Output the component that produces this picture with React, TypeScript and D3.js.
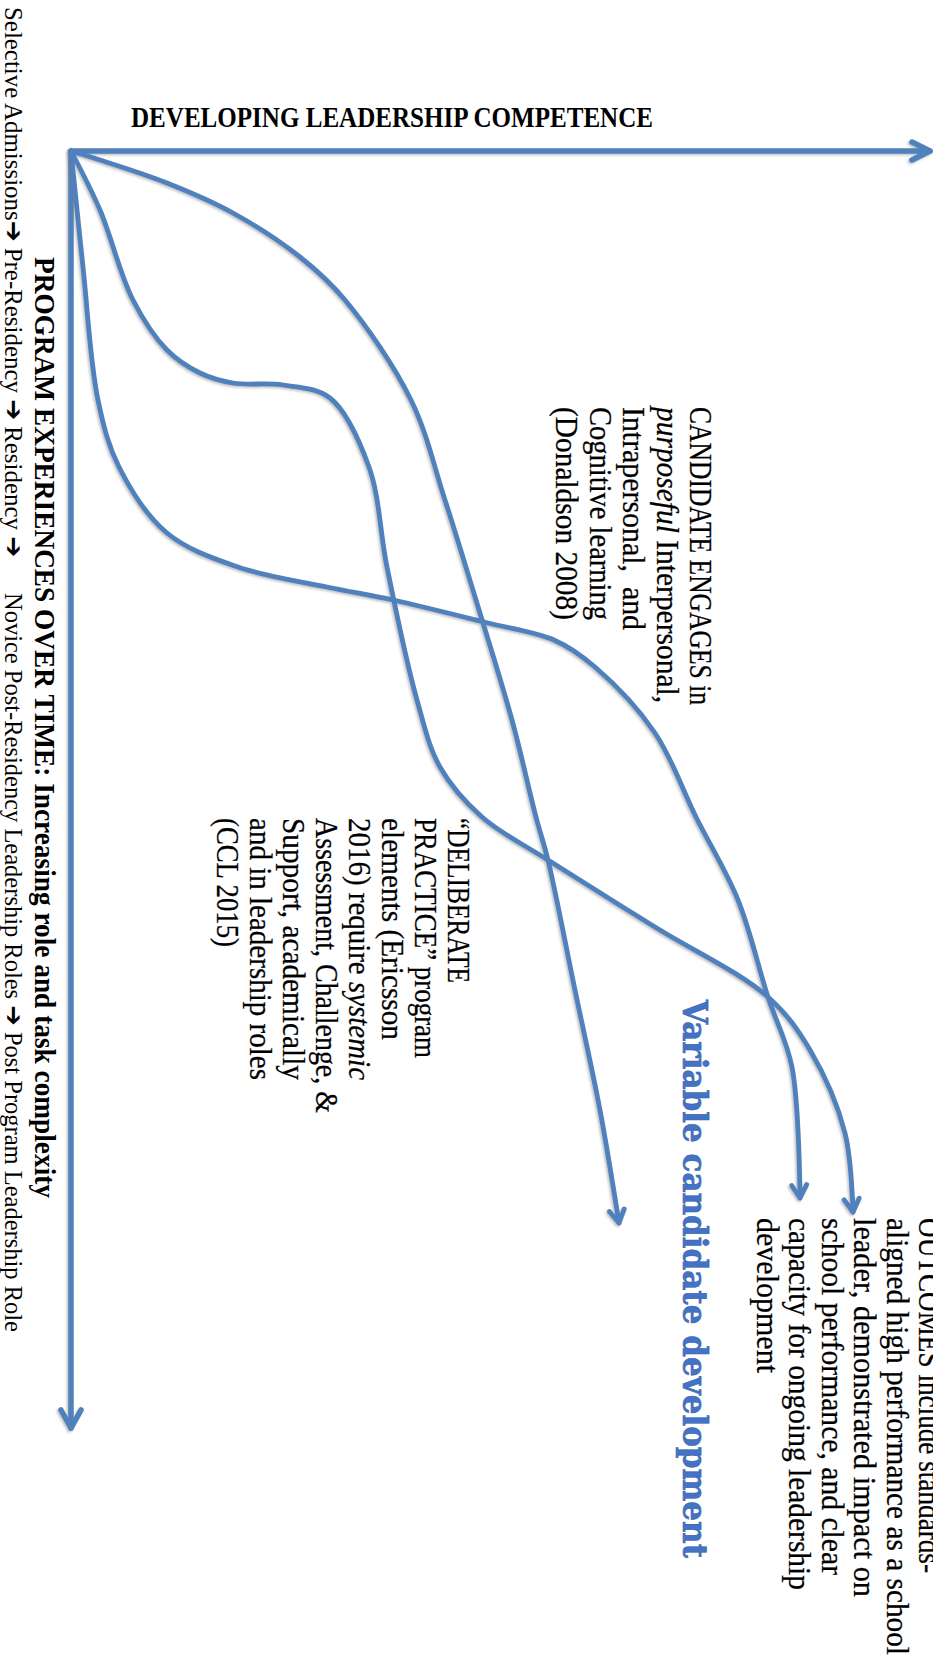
import React from "react";
import * as d3 from "d3";

const WIDTH = 933;
const HEIGHT = 1664;

// Data space: competence (horizontal) vs program time (vertical)
const competenceMax = 859;
const timeMax = 1277;

// Outer (concave) candidate path
const outerCompetence = [0, 29, 96, 162, 229, 274, 340, 374, 405, 441, 465, 477, 504, 529, 548];
const outerTime = [0, 9, 32, 62, 106, 149, 249, 349, 449, 569, 666, 709, 839, 959, 1072];

// Wave (plateau) candidate path
const waveCompetence = [0, 29, 62, 96, 129, 162, 212, 259, 298, 316, 346, 369, 411, 477, 584, 697, 739, 774, 782];
const waveTime = [0, 59, 149, 199, 222, 232, 234, 247, 316, 416, 549, 616, 666, 709, 776, 846, 899, 982, 1061];

// S-shaped candidate path
const sCompetence = [0, 12, 27, 48, 96, 167, 256, 322, 417, 483, 524, 584, 625, 667, 697, 721, 729];
const sTime = [0, 116, 249, 316, 382, 416, 436, 449, 472, 489, 516, 582, 666, 749, 846, 916, 1047];

// Texts
const titleText = "DEVELOPING LEADERSHIP COMPETENCE";
const stagesPart1 = ["Selective Admissions", "➔", " Pre-Residency ", "➔", " Residency ", "➔"];
const stagesPart2 = ["Novice Post-Residency Leadership Roles ", "➔", " Post Program Leadership Role"];
const timeAxisLabel = [{ t: "PROGRAM EXPERIENCES OVER TIME: Increasing role and task complexity" }];
const candidateLines = [
  [{ t: "CANDIDATE ENGAGES in" }],
  [{ t: "purposeful", i: true }, { t: " Interpersonal," }],
  [{ t: "Intrapersonal,  and" }],
  [{ t: "Cognitive learning" }],
  [{ t: "(Donaldson 2008)" }],
];
const practiceLines = [
  [{ t: "\u201CDELIBERATE" }],
  [{ t: "PRACTICE\u201D program" }],
  [{ t: "elements (Ericsson" }],
  [{ t: "2016) require " }, { t: "systemic", i: true }],
  [{ t: "Assessment, Challenge, &" }],
  [{ t: "Support, academically" }],
  [{ t: "and in leadership roles" }],
  [{ t: "(CCL 2015)" }],
];
const outcomeLines = [
  [{ t: "OUTCOMES include standards-" }],
  [{ t: "aligned high performance as a school" }],
  [{ t: "leader, demonstrated impact on" }],
  [{ t: "school performance, and clear" }],
  [{ t: "capacity for ongoing leadership" }],
  [{ t: "development" }],
];
const variableText = "Variable candidate development";

// Layout (page pixels)
const BLUE = "#4F81BD";
const SERIF = "'Liberation Serif', 'Times New Roman', serif";

const candidateLayout = { x0: 690, step: 33.5, y0: 407, size: 31.5, ends: [705, 703, 630, 620, 620] };
const practiceLayout = { x0: 448, step: 33, y0: 818, size: 31.5, ends: [983, 1058, 1040, 1080, 1113, 1080, 1080, 947] };
const outcomeLayout = { x0: 919, step: 32.5, y0: 1218, size: 31, ends: [1573, 1655, 1597, 1575, 1590, 1373] };

type Seg = { t: string; i?: boolean };

function VText(props: {
  x: number; y: number; size: number; length?: number; weight?: string | number;
  family?: string; fill?: string; segs: Seg[]; stroke?: string; sw?: number;
}) {
  const { x, y, size, length, weight, family, fill, segs, stroke, sw } = props;
  return (
    <text
      transform={`translate(${x},${y}) rotate(90)`}
      fontSize={size}
      fontFamily={family || SERIF}
      fontWeight={weight || "normal"}
      fill={fill || "#000"}
      stroke={stroke}
      strokeWidth={stroke ? sw || 0.3 : undefined}
      textLength={length}
      lengthAdjust={length ? "spacingAndGlyphs" : undefined}
      style={{ whiteSpace: "pre" }}
    >
      {segs.map((s, k) => (
        <tspan key={k} fontStyle={s.i ? "italic" : "normal"}>{s.t}</tspan>
      ))}
    </text>
  );
}

function StageText(props: { x: number; y: number; size: number; length: number; parts: string[] }) {
  const { x, y, size, length, parts } = props;
  return (
    <text
      transform={`translate(${x},${y}) rotate(90)`}
      fontSize={size}
      fontFamily={SERIF}
      fill="#000"
      textLength={length}
      lengthAdjust="spacingAndGlyphs"
      style={{ whiteSpace: "pre" }}
    >
      {parts.map((p, k) =>
        p === "➔" ? (
          <tspan key={k} fontFamily="'DejaVu Sans', sans-serif" fontWeight="bold">{p}</tspan>
        ) : (
          <tspan key={k}>{p}</tspan>
        )
      )}
    </text>
  );
}

function arrowHead(tip: [number, number], from: [number, number], len: number, half: number) {
  const dx = tip[0] - from[0];
  const dy = tip[1] - from[1];
  const d = Math.hypot(dx, dy) || 1;
  const ux = dx / d, uy = dy / d;
  const nx = -uy, ny = ux;
  const bx = tip[0] - ux * len, by = tip[1] - uy * len;
  return `M${bx + nx * half},${by + ny * half}L${tip[0]},${tip[1]}L${bx - nx * half},${by - ny * half}`;
}

export default function App() {
  const x = d3.scaleLinear().domain([0, competenceMax]).range([71, 930]);
  const y = d3.scaleLinear().domain([0, timeMax]).range([151, 1428]);

  const line = d3
    .line<[number, number]>()
    .x((d) => x(d[0]))
    .y((d) => y(d[1]))
    .curve(d3.curveCatmullRom.alpha(0.5));

  const series: [number, number][][] = [
    outerCompetence.map((c, i) => [c, outerTime[i]] as [number, number]),
    waveCompetence.map((c, i) => [c, waveTime[i]] as [number, number]),
    sCompetence.map((c, i) => [c, sTime[i]] as [number, number]),
  ];

  const origin: [number, number] = [x(0), y(0)];
  const hTip: [number, number] = [x(competenceMax), y(0)];
  const vTip: [number, number] = [x(0), y(timeMax)];

  return (
    <svg
      width={WIDTH}
      height={HEIGHT}
      style={{ position: "absolute", left: 0, top: 0, background: "#fff" }}
    >
      <defs>
        <filter id="sh" x="-10%" y="-10%" width="120%" height="120%">
          <feDropShadow dx={-1.5} dy={1.5} stdDeviation={1.2} floodColor="#777" floodOpacity={0.45} />
        </filter>
      </defs>
      <rect width={WIDTH} height={HEIGHT} fill="#fff" />

      {/* title */}
      <text x={131} y={127} fontSize={28.5} fontWeight="bold" fontFamily={SERIF} textLength={522} lengthAdjust="spacingAndGlyphs">
        {titleText}
      </text>

      {/* axes */}
      <g filter="url(#sh)" stroke={BLUE} strokeWidth={5.5} fill="none" strokeLinecap="round" strokeLinejoin="round">
        <path d={`M${origin[0]},${origin[1]}L${hTip[0]},${hTip[1]}`} />
        <path d={arrowHead(hTip, origin, 18, 9)} />
        <path d={`M${origin[0]},${origin[1]}L${vTip[0]},${vTip[1]}`} />
        <path d={arrowHead(vTip, origin, 18, 10)} />
      </g>

      {/* candidate paths */}
      <g filter="url(#sh)" stroke={BLUE} strokeWidth={4.8} fill="none" strokeLinecap="round" strokeLinejoin="round">
        {series.map((s, i) => {
          const tip: [number, number] = [x(s[s.length - 1][0]), y(s[s.length - 1][1])];
          const prev: [number, number] = [x(s[s.length - 2][0]), y(s[s.length - 2][1])];
          return (
            <g key={i}>
              <path d={line(s) || ""} />
              <path d={arrowHead(tip, prev, 13, 7.5)} />
            </g>
          );
        })}
      </g>

      {/* left stage texts */}
      <StageText x={5} y={7} size={26} length={550} parts={stagesPart1} />
      <StageText x={5} y={593} size={26} length={739} parts={stagesPart2} />
      <VText x={35} y={257} size={29} length={941} weight="bold" segs={timeAxisLabel} />

      {/* candidate block */}
      {candidateLines.map((segs, i) => (
        <VText key={"c" + i} x={candidateLayout.x0 - i * candidateLayout.step} y={candidateLayout.y0}
          size={candidateLayout.size} length={candidateLayout.ends[i] - candidateLayout.y0} segs={segs}
          stroke="#000" sw={0.25} />
      ))}

      {/* practice block */}
      {practiceLines.map((segs, i) => (
        <VText key={"p" + i} x={practiceLayout.x0 - i * practiceLayout.step} y={practiceLayout.y0}
          size={practiceLayout.size} length={practiceLayout.ends[i] - practiceLayout.y0} segs={segs}
          stroke="#000" sw={0.25} />
      ))}

      {/* outcomes block */}
      {outcomeLines.map((segs, i) => (
        <VText key={"o" + i} x={outcomeLayout.x0 - i * outcomeLayout.step} y={outcomeLayout.y0}
          size={outcomeLayout.size} length={outcomeLayout.ends[i] - outcomeLayout.y0} segs={segs}
          stroke="#000" sw={0.25} />
      ))}

      {/* variable development label */}
      <VText x={683} y={1000} size={33} length={558} weight="bold"
        family="'DejaVu Serif', serif" fill="#4472C4" stroke="#3A64AE" sw={0.6} segs={[{ t: variableText }]} />
    </svg>
  );
}
